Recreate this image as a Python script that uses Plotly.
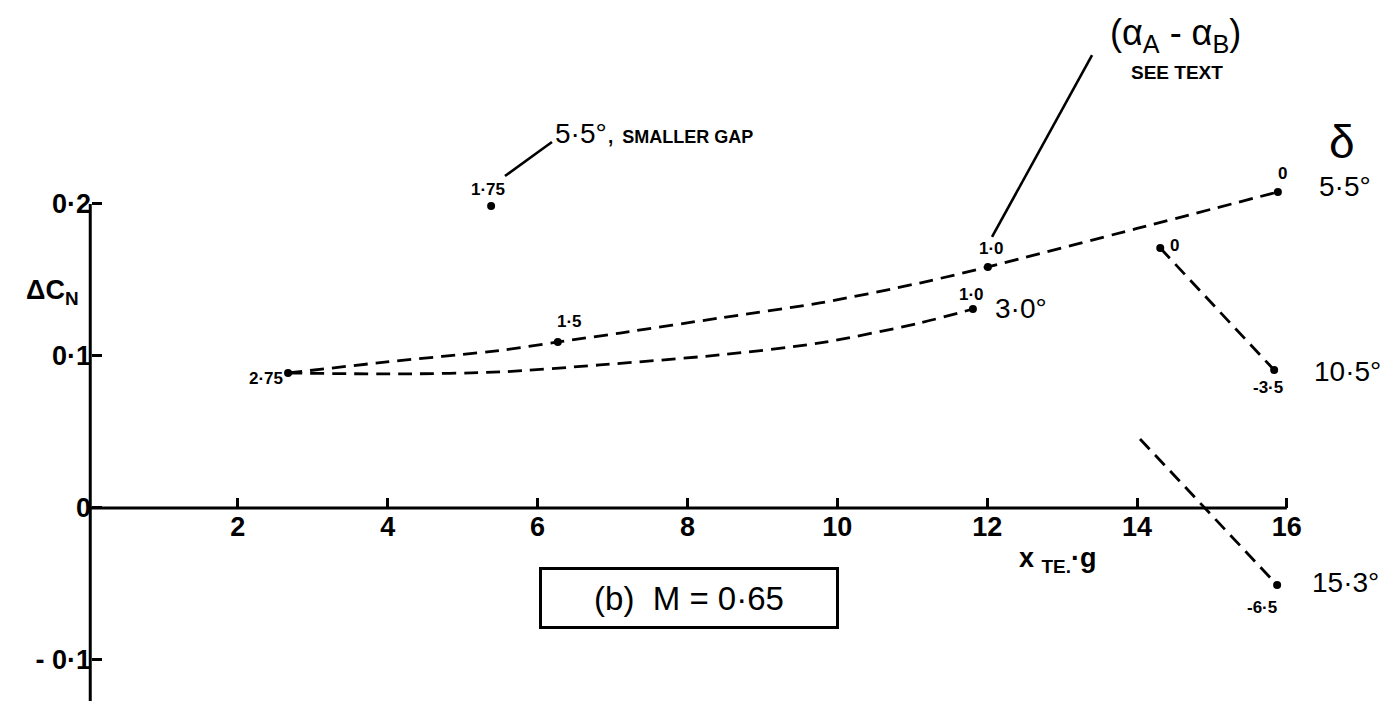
import plotly.graph_objects as go

# --- data -------------------------------------------------------------
# faired curves
d55_curve_x = [2.67, 3.99, 5.54, 6.27, 7.10, 8.43, 9.77, 11.10, 12.01, 14.00, 15.88]
d55_curve_y = [0.0888, 0.0961, 0.1039, 0.1092, 0.1151, 0.1250, 0.1349, 0.1480, 0.1586, 0.1839, 0.2079]

d30_curve_x = [2.67, 4.16, 5.50, 6.83, 8.43, 9.77, 11.10, 11.81]
d30_curve_y = [0.0888, 0.0882, 0.0895, 0.0941, 0.1007, 0.1086, 0.1217, 0.1309]

d105_x = [14.31, 15.83]
d105_y = [0.171, 0.0908]

d153_x = [14.04, 15.87]
d153_y = [0.0454, -0.0507]

# measured points with (alpha_A - alpha_B) labels
pts_x = [2.67, 6.27, 12.01, 15.88, 11.81, 14.31, 15.83, 15.87, 5.38]
pts_y = [0.0888, 0.1092, 0.1586, 0.2079, 0.1309, 0.171, 0.0908, -0.0507, 0.1987]
pts_lab = ["2·75", "1·5", "1·0", "0", "1·0", "0", "-3·5", "-6·5", "1·75"]
# label offsets in pixels (xshift, yshift)
pts_off = [(-22, -5), (12, 20), (4, 18), (5, 18), (-1, 15), (14, 3), (-6, -18), (-15, -22), (-3, 16)]

x_ticks = [2, 4, 6, 8, 10, 12, 14, 16]
x_ticktext = ["2", "4", "6", "8", "10", "12", "14", "16"]
y_ticks = [-0.1, 0, 0.1, 0.2]
y_ticktext = ["- 0·1", "0", "0·1", "0·2"]

FONT = "Liberation Sans, Arial, sans-serif"
INK = "black"
DASH = "14px,8px"

fig = go.Figure()

for cx, cy in [(d55_curve_x, d55_curve_y), (d30_curve_x, d30_curve_y)]:
    fig.add_trace(go.Scatter(x=cx, y=cy, mode="lines",
                             line=dict(color=INK, width=2.8, dash=DASH, shape="spline", smoothing=0.8),
                             hoverinfo="skip", showlegend=False))

for cx, cy in [(d105_x, d105_y), (d153_x, d153_y)]:
    fig.add_trace(go.Scatter(x=cx, y=cy, mode="lines",
                             line=dict(color=INK, width=2.8, dash=DASH),
                             hoverinfo="skip", showlegend=False))

fig.add_trace(go.Scatter(x=pts_x, y=pts_y, mode="markers",
                         marker=dict(color=INK, size=8),
                         cliponaxis=False, showlegend=False))

for x, y, t, (dx, dy) in zip(pts_x, pts_y, pts_lab, pts_off):
    fig.add_annotation(x=x, y=y, text=f"<b>{t}</b>", showarrow=False,
                       xshift=dx, yshift=dy, font=dict(family=FONT, size=17, color=INK))

# delta labels, placed beside the end of each line
big = dict(family=FONT, size=28, color=INK)
fig.add_annotation(x=d55_curve_x[-1], y=d55_curve_y[-1], text="5·5°", showarrow=False,
                   xshift=67, yshift=5, font=big)
fig.add_annotation(x=d55_curve_x[-1], y=d55_curve_y[-1], text="δ", showarrow=False,
                   xshift=64, yshift=50, font=dict(family=FONT, size=46, color=INK))
fig.add_annotation(x=d30_curve_x[-1], y=d30_curve_y[-1], text="3·0°", showarrow=False,
                   xshift=48, yshift=1, font=big)
fig.add_annotation(x=d105_x[-1], y=d105_y[-1], text="10·5°", showarrow=False,
                   xshift=73, yshift=-2, font=big)
fig.add_annotation(x=d153_x[-1], y=d153_y[-1], text="15·3°", showarrow=False,
                   xshift=68, yshift=3, font=big)

# leader lines
fig.add_shape(type="line", x0=12.065, y0=0.1783, x1=13.40, y1=0.298,
              line=dict(color=INK, width=2.6))
fig.add_shape(type="line", x0=5.565, y0=0.2184, x1=6.192, y1=0.2408,
              line=dict(color=INK, width=2.6))

fig.add_annotation(x=6.20, y=0.2465, xanchor="left", showarrow=False,
                   text="5·5°, <b><span style='font-size:18px'>SMALLER GAP</span></b>",
                   font=dict(family=FONT, size=28, color=INK))
fig.add_annotation(x=14.52, y=0.311, showarrow=False,
                   text="(α<sub>A</sub> - α<sub>B</sub>)",
                   font=dict(family=FONT, size=36, color=INK))
fig.add_annotation(x=14.53, y=0.2868, showarrow=False, text="<b>SEE TEXT</b>",
                   font=dict(family=FONT, size=19, color=INK))

# axis lines
fig.add_shape(type="line", x0=0.03, y0=0, x1=16, y1=0, line=dict(color=INK, width=3))
fig.add_shape(type="line", x0=0.03, y0=0.2, x1=0.03, y1=-0.13, line=dict(color=INK, width=3))

# axis titles
fig.add_annotation(x=-0.47, y=0.142, showarrow=False, text="<b>ΔC<sub>N</sub></b>",
                   font=dict(family=FONT, size=27, color=INK))
fig.add_annotation(x=12.40, y=-0.0342, xanchor="left", showarrow=False,
                   text="<b>x <sub>TE.</sub>·g</b>", font=dict(family=FONT, size=27, color=INK))

# case box
fig.add_annotation(x=8.02, y=-0.0592, showarrow=False, text="(b)  M = 0·65",
                   font=dict(family=FONT, size=33, color=INK),
                   bordercolor=INK, borderwidth=3, width=292, height=54, bgcolor="white")

fig.update_layout(
    width=1388, height=701,
    margin=dict(l=0, r=0, t=0, b=0),
    paper_bgcolor="white", plot_bgcolor="white",
    showlegend=False,
    xaxis=dict(range=[-1.1744, 17.3496], showgrid=False, zeroline=False, showline=False,
               anchor="free", position=0.2754,
               tickmode="array", tickvals=x_ticks, ticktext=x_ticktext,
               ticks="inside", ticklen=10, tickwidth=2.5, tickcolor=INK,
               tickfont=dict(family=FONT, size=27, color=INK, weight="bold")),
    yaxis=dict(range=[-0.1270, 0.3342], showgrid=False, zeroline=False, showline=False,
               anchor="free", position=0.0656,
               tickmode="array", tickvals=y_ticks, ticktext=y_ticktext,
               ticks="inside", ticklen=10, tickwidth=2.5, tickcolor=INK,
               tickfont=dict(family=FONT, size=27, color=INK, weight="bold")),
)

fig.write_html("out.html")
